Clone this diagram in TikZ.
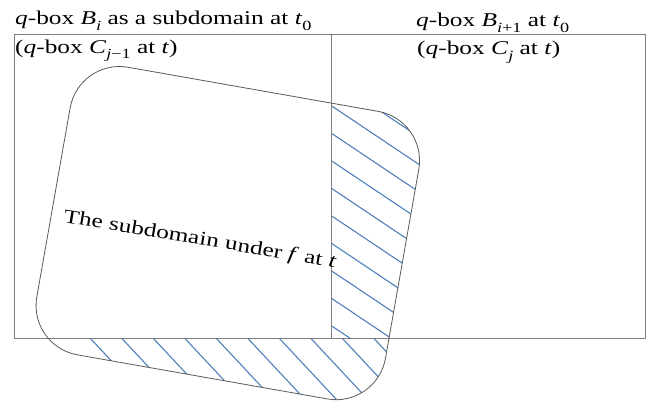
\documentclass[tikz,border=0pt]{standalone}
\usepackage{fontspec}
\setmainfont{Liberation Serif}[FakeStretch=1.3]
\newcommand\vi[1]{\textit{#1}}
\newcommand\lsub[1]{\raisebox{-0.28em}{\fontsize{14}{14}\selectfont #1}}
\definecolor{boxgray}{HTML}{7F7F7F}
\definecolor{shapegray}{HTML}{5A5A5A}
\definecolor{hatchblue}{HTML}{4F81BD}
\tikzset{
  qbox/.style={draw=boxgray, line width=1pt, minimum height=303pt, inner sep=0pt, outer sep=0pt},
  lbl/.style={anchor=base west, inner sep=0pt, font=\fontsize{19.5}{19.5}\selectfont},
  hatch/.style={draw=hatchblue, line width=1.1pt},
}
\begin{document}
\begin{tikzpicture}[x=1pt,y=-1pt]
\useasboundingbox (0,0) rectangle (668,404);
\fill[white] (0,0) rectangle (668,404);
% boxes
\node[qbox, minimum width=317pt] (bi) at (172.5,186.5) {};
\node[qbox, minimum width=314pt] (bj) at (488,186.5) {};
% rotated subdomain
\node[draw=none, rotate=-10, minimum width=354pt, minimum height=292pt, inner sep=0pt, outer sep=0pt] (sub) at (227.8,233.1) {};
% hatching
\begin{scope}
  \clip[rounded corners=50pt] (sub.north west) -- (sub.north east) -- (sub.south east) -- (sub.south west) -- cycle;
  \begin{scope}
    \clip (bi.north east) rectangle (668,338);
    \foreach \k in {0,...,11} {
      \pgfmathsetmacro\yy{78+27.5*\k}
      \draw[hatch] (331,\yy) -- (460,\yy+86.4);
    }
  \end{scope}
  \begin{scope}
    \clip (0,338) rectangle (668,404);
    \foreach \k in {0,...,11} {
      \pgfmathsetmacro\xx{90+31.5*\k}
      \draw[hatch] (\xx-60,338-64.2) -- (\xx+100,338+107);
    }
  \end{scope}
\end{scope}
% box edges and outline
\draw[boxgray, line width=1pt] (bi.north west) rectangle (bi.south east);
\draw[boxgray, line width=1pt] (bj.north west) rectangle (bj.south east);
\draw[shapegray, line width=0.8pt, rounded corners=50pt] (sub.north west) -- (sub.north east) -- (sub.south east) -- (sub.south west) -- cycle;
% labels
\node[lbl] (l1) at (15,25) {\vi{q}-box \vi{B}\lsub{\vi{i}} as a subdomain at \vi{t}\lsub{0}};
\node[lbl] (l2) at (15,53) {(\vi{q}-box \vi{C}\lsub{\vi{j}−1} at \vi{t})};
\node[lbl] (r1) at (416,27) {\vi{q}-box \vi{B}\lsub{\vi{i}+1} at \vi{t}\lsub{0}};
\node[lbl] (r2) at (417,55) {(\vi{q}-box \vi{C}\lsub{\vi{j}} at \vi{t})};
\node[anchor=base west, inner sep=0pt, rotate=-9.5, font=\fontsize{19.5}{19.5}\selectfont] (st) at (63,222) {The subdomain under \vi{f} at \vi{t}};
\end{tikzpicture}
\end{document}
